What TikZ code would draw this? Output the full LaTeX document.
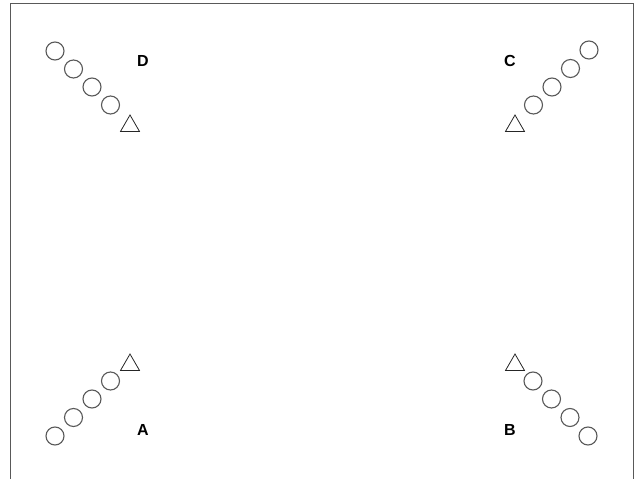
\documentclass[tikz,border=0pt]{standalone}
\usepackage{fontspec}
\setmainfont{Liberation Sans}
\usetikzlibrary{shapes.geometric}

\begin{document}
\begin{tikzpicture}[x=1pt,y=-1pt]
    \tikzset{
        player/.style={
            draw=black!65,
            line width=1.1pt,
            circle,
            minimum size=18pt,
            inner sep=0pt
        },
        cone/.style={
            draw=black!85,
            line width=0.8pt,
            regular polygon,
            regular polygon sides=3,
            minimum size=22pt,
            inner sep=0pt
        },
        corner/.style={
            font=\fontsize{16}{18}\selectfont\bfseries,
            inner sep=0pt
        }
    }

    \useasboundingbox (0,0) rectangle (643,479);

    % field boundary, open at the bottom
    \draw[black!65,line width=1pt] (10,479) -- (10,3) -- (633,3) -- (633,479);

    % corner D
    \node[player] (d1) at (55,51) {};
    \node[player] (d2) at (73.5,69) {};
    \node[player] (d3) at (92,87) {};
    \node[player] (d4) at (110.5,105) {};
    \node[cone] (dcone) at (130,126) {};
    \node[corner] (dlabel) at (143,61) {D};

    % corner C
    \node[player] (c1) at (589,50) {};
    \node[player] (c2) at (570.5,68.5) {};
    \node[player] (c3) at (552,87) {};
    \node[player] (c4) at (533.5,105) {};
    \node[cone] (ccone) at (515,126) {};
    \node[corner] (clabel) at (510,61) {C};

    % corner A
    \node[player] (a1) at (55,436) {};
    \node[player] (a2) at (73.5,417.5) {};
    \node[player] (a3) at (92,399) {};
    \node[player] (a4) at (110.5,381) {};
    \node[cone] (acone) at (130,365) {};
    \node[corner] (alabel) at (143,430) {A};

    % corner B
    \node[player] (b1) at (588,436) {};
    \node[player] (b2) at (570,417.5) {};
    \node[player] (b3) at (551.5,399) {};
    \node[player] (b4) at (533,381) {};
    \node[cone] (bcone) at (515,365) {};
    \node[corner] (blabel) at (510,430) {B};
\end{tikzpicture}
\end{document}
